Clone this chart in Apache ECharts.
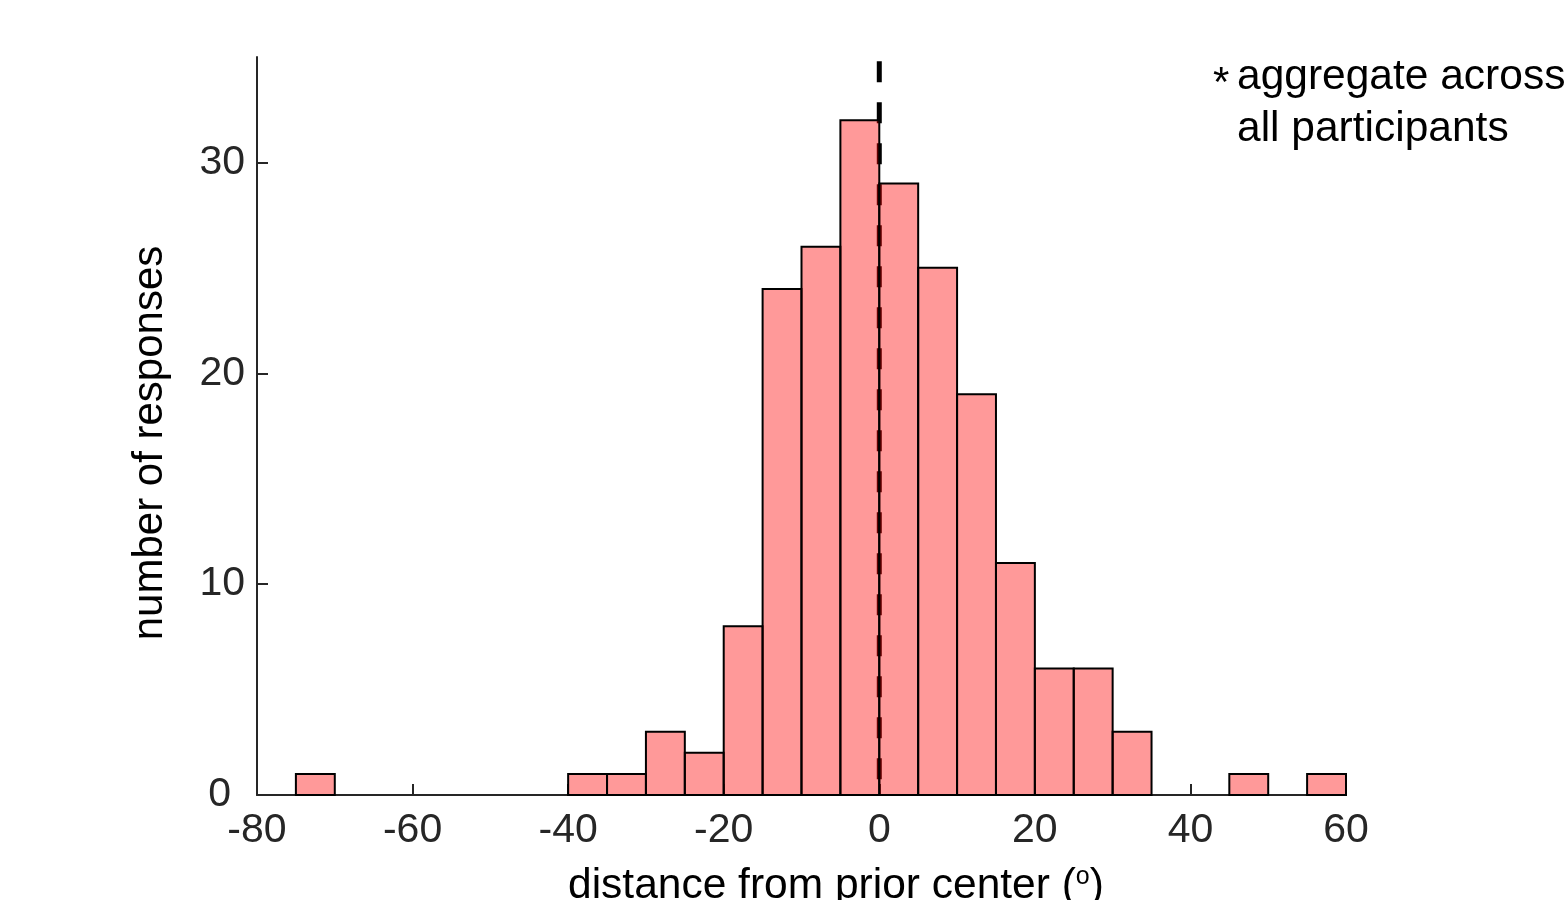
<!DOCTYPE html>
<html>
<head>
<meta charset="utf-8">
<script src="https://cdn.jsdelivr.net/npm/echarts@6/dist/echarts.min.js"></script>
<style>
html,body{margin:0;padding:0;background:#fff;}
#chart{width:1564px;height:900px;}
</style>
</head>
<body>
<div id="chart"></div>
<script>
// ---- data ----
const binStarts = [-75, -40, -35, -30, -25, -20, -15, -10, -5, 0, 5, 10, 15, 20, 25, 30, 45, 55];
const counts    = [  1,   1,   1,   3,   2,   8,  24,  26, 32, 29, 25, 19, 11,  6,  6,  3,  1,  1];
const binWidth = 5;
const xTicks = [-80, -60, -40, -20, 0, 20, 40, 60];
const yTicks = [0, 10, 20, 30];
const priorCenter = 0;
const priorLineTop = 34.8;
const xLabel = 'distance from prior center (';
const yLabel = 'number of responses';
const noteLine1 = 'aggregate across';
const noteLine2 = 'all participants';

const font = '"Liberation Sans", Arial, Helvetica, sans-serif';
const axisColor = '#262626';

const histData = binStarts.map((s, i) => [s, counts[i]]);

const chart = echarts.init(document.getElementById('chart'), null, {renderer: 'canvas'});
chart.setOption({
  animation: false,
  backgroundColor: '#ffffff',
  grid: {left: 257, right: 218, top: 57, bottom: 105, containLabel: false},
  xAxis: {
    type: 'value', min: -80, max: 60, interval: 20,
    axisLine: {show: true, onZero: false, lineStyle: {color: axisColor, width: 2}},
    axisTick: {show: true, inside: true, length: 11, customValues: xTicks, lineStyle: {color: axisColor, width: 2}},
    axisLabel: {color: axisColor, fontSize: 41, fontFamily: font, margin: 15, customValues: xTicks,
      formatter: v => String(v)},
    splitLine: {show: false}
  },
  yAxis: {
    type: 'value', min: 0, max: 35, interval: 10,
    axisLine: {show: true, onZero: false, lineStyle: {color: axisColor, width: 2}},
    axisTick: {show: true, inside: true, length: 11, customValues: yTicks, lineStyle: {color: axisColor, width: 2}},
    axisLabel: {color: axisColor, fontSize: 41, fontFamily: font, margin: 12, customValues: yTicks,
      formatter: v => v === 0 ? '{z|0}' : String(v),
      rich: {z: {fontSize: 41, fontFamily: font, color: axisColor, padding: [0, 14, 0, 0]}}
    },
    splitLine: {show: false}
  },
  series: [
    {
      type: 'line',
      data: [[priorCenter, priorLineTop], [priorCenter, 0]],
      symbol: 'none',
      lineStyle: {color: '#000', width: 5, type: [21, 20]},
      z: 1, silent: true
    },
    {
      type: 'custom',
      data: histData,
      z: 2,
      renderItem: function (params, api) {
        const s = api.value(0), c = api.value(1);
        const p0 = api.coord([s, 0]);
        const p1 = api.coord([s + binWidth, c]);
        return {
          type: 'rect',
          shape: {x: p0[0], y: p1[1], width: p1[0] - p0[0], height: p0[1] - p1[1]},
          style: {fill: 'rgba(255,0,0,0.4)', stroke: '#000', lineWidth: 2}
        };
      }
    }
  ],
  graphic: [
    {
      type: 'text', x: 150, y: 443, rotation: Math.PI / 2,
      style: {text: yLabel, fill: '#000', font: '42px ' + font, align: 'center', verticalAlign: 'middle'}
    },
    {
      type: 'text', x: 568, y: 886,
      style: {
        text: xLabel + '{sup|o})', fill: '#000', font: '42.5px ' + font, align: 'left', verticalAlign: 'middle',
        rich: {sup: {fontSize: 25, fontFamily: font, fill: '#000', verticalAlign: 'top', padding: [0, 0, 15, 0]}}
      }
    },
    {
      type: 'text', x: 1213, y: 84,
      style: {text: '*', fill: '#000', font: '42px ' + font, align: 'left', verticalAlign: 'middle'}
    },
    {
      type: 'text', x: 1237, y: 77,
      style: {text: noteLine1, fill: '#000', font: '42.5px ' + font, align: 'left', verticalAlign: 'middle'}
    },
    {
      type: 'text', x: 1237, y: 129,
      style: {text: noteLine2, fill: '#000', font: '42.5px ' + font, align: 'left', verticalAlign: 'middle'}
    }
  ]
});
</script>
</body>
</html>
